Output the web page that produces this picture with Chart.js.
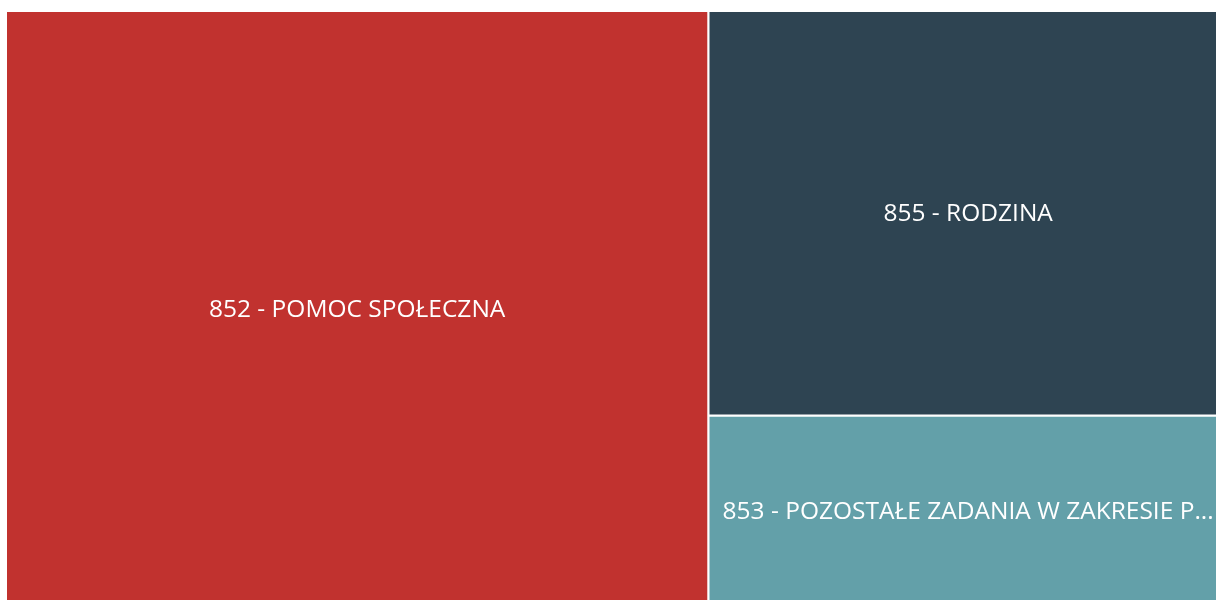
<!DOCTYPE html>
<html><head><meta charset="utf-8">
<script src="https://cdn.jsdelivr.net/npm/chart.js@4.4.1/dist/chart.umd.min.js"></script>
<style>
html,body{margin:0;padding:0;background:#fff;overflow:hidden;width:1216px;height:600px}
#wrap{position:absolute;left:6px;top:11px;width:1222px;height:596px}
</style></head>
<body><div id="wrap"><canvas id="c"></canvas></div>
<script>
const categories = ['852 - POMOC SPOŁECZNA', '855 - RODZINA', '853 - POZOSTAŁE ZADANIA W ZAKRESIE POLITYKI SPOŁECZNEJ'];
const values = [41580, 20880, 9890];
const colors = ['#C1322F', '#2E4452', '#63A0A9'];

function squarify(vals, x, y, w, h) {
  const total = vals.reduce((a, b) => a + b, 0);
  const k = w * h / total;
  const items = vals.map((v, i) => ({ i, a: v * k })).sort((p, q) => q.a - p.a);
  const rects = [];
  let rx = x, ry = y, rw = w, rh = h, row = [];
  const worst = (r, side) => {
    const s = r.reduce((a, b) => a + b.a, 0);
    let mx = -Infinity, mn = Infinity;
    r.forEach(o => { mx = Math.max(mx, o.a); mn = Math.min(mn, o.a); });
    return Math.max(side * side * mx / (s * s), (s * s) / (side * side * mn));
  };
  const layoutRow = r => {
    const s = r.reduce((a, b) => a + b.a, 0);
    if (rw >= rh) {
      const cw = s / rh; let yy = ry;
      r.forEach(o => { const hh = o.a / cw; rects[o.i] = { x: rx, y: yy, w: cw, h: hh }; yy += hh; });
      rx += cw; rw -= cw;
    } else {
      const ch = s / rw; let xx = rx;
      r.forEach(o => { const ww = o.a / ch; rects[o.i] = { x: xx, y: ry, w: ww, h: ch }; xx += ww; });
      ry += ch; rh -= ch;
    }
  };
  let n = 0;
  while (n < items.length) {
    const side = Math.min(rw, rh);
    const it = items[n];
    if (row.length === 0 || worst(row.concat([it]), side) <= worst(row, side)) { row.push(it); n++; }
    else { layoutRow(row); row = []; }
  }
  if (row.length) layoutRow(row);
  return rects;
}

const wrap = document.getElementById('wrap');
const aspect = wrap.clientWidth / wrap.clientHeight;
const rects = squarify(values, 0, 0, aspect, 1);

const datasets = rects.map((r, i) => ({
  label: categories[i],
  data: [
    { x: r.x, y: r.y }, { x: r.x + r.w, y: r.y },
    { x: r.x + r.w, y: r.y + r.h }, { x: r.x, y: r.y + r.h }, { x: r.x, y: r.y }
  ],
  showLine: true,
  fill: 'shape',
  backgroundColor: colors[i],
  borderColor: '#ffffff',
  borderWidth: 2,
  pointRadius: 0,
  tension: 0
}));

const labelPlugin = {
  id: 'tmLabels',
  afterDatasetsDraw(chart) {
    const ctx = chart.ctx, xs = chart.scales.x, ys = chart.scales.y;
    ctx.save();
    ctx.font = '24.5px "Open Sans", sans-serif';
    ctx.fillStyle = '#ffffff';
    ctx.textAlign = 'center';
    ctx.textBaseline = 'middle';
    rects.forEach((r, i) => {
      const x0 = xs.getPixelForValue(r.x), x1 = xs.getPixelForValue(r.x + r.w);
      const y0 = ys.getPixelForValue(r.y), y1 = ys.getPixelForValue(r.y + r.h);
      const maxW = Math.abs(x1 - x0) - 24;
      let t = categories[i];
      if (ctx.measureText(t).width > maxW) {
        while (t.length && ctx.measureText(t + '...').width > maxW) t = t.slice(0, -1);
        t = t.trimEnd() + '...';
      }
      ctx.fillText(t, (x0 + x1) / 2, (y0 + y1) / 2 + 1);
    });
    ctx.restore();
  }
};

new Chart(document.getElementById('c'), {
  type: 'scatter',
  data: { datasets },
  options: {
    responsive: true,
    maintainAspectRatio: false,
    animation: false,
    events: [],
    layout: { padding: 0 },
    plugins: { legend: { display: false }, tooltip: { enabled: false } },
    scales: {
      x: { type: 'linear', min: 0, max: aspect, display: false },
      y: { type: 'linear', min: 0, max: 1, reverse: true, display: false }
    }
  },
  plugins: [labelPlugin]
});
</script>
</body></html>
